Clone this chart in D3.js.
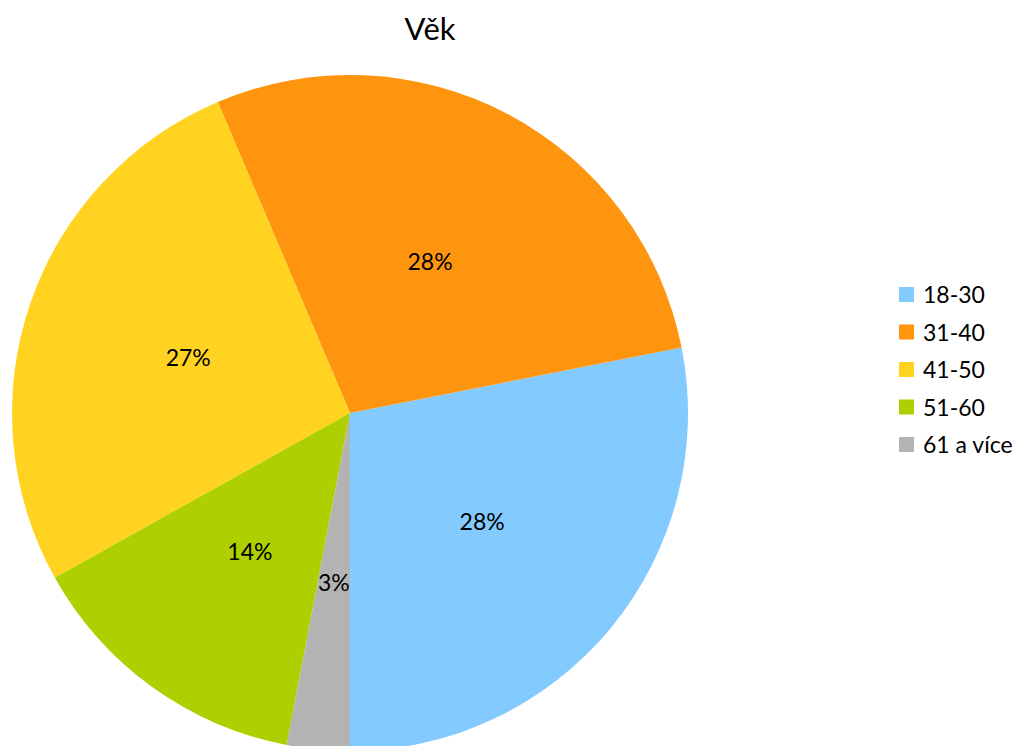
<!DOCTYPE html>
<html>
<head>
<meta charset="utf-8">
<script src="https://cdn.jsdelivr.net/npm/d3@7"></script>
<style>
  body { margin: 0; background: #fff; }
  svg text { font-family: Lato, "Open Sans", sans-serif; fill: #000; }
</style>
</head>
<body>
<div id="chart"></div>
<script>
// data
const categories = ["18-30", "31-40", "41-50", "51-60", "61 a více"];
const values = [28.1, 28.3, 26.7, 13.9, 3.0];
const colors = ["#83caff", "#ff950e", "#ffd320", "#aecf00", "#b3b3b3"];
const title = "Věk";

const width = 1022, height = 746;
const cx = 350, cy = 413, radius = 338;

const color = d3.scaleOrdinal().domain(categories).range(colors);
const data = categories.map((c, i) => ({ category: c, value: values[i] }));
const total = d3.sum(values);

const svg = d3.select("#chart").append("svg")
    .attr("width", width).attr("height", height);

svg.append("text")
    .attr("x", 430).attr("y", 40)
    .attr("text-anchor", "middle")
    .attr("font-size", 31)
    .text(title);

// counter-clockwise from 6 o'clock
const pie = d3.pie().value(d => d.value).sort(null)
    .startAngle(Math.PI).endAngle(-Math.PI);
const arcs = pie(data);

const arc = d3.arc().innerRadius(0).outerRadius(radius);
const labelArc = d3.arc().innerRadius(radius * 0.506).outerRadius(radius * 0.506);

const g = svg.append("g").attr("transform", `translate(${cx},${cy})`);

g.selectAll("path")
    .data(arcs)
    .join("path")
    .attr("d", arc)
    .attr("fill", d => color(d.data.category));

g.selectAll("text.lbl")
    .data(arcs)
    .join("text")
    .attr("class", "lbl")
    .attr("transform", d => `translate(${labelArc.centroid(d)})`)
    .attr("text-anchor", "middle")
    .attr("dy", "0.35em")
    .attr("font-size", 23)
    .text(d => Math.round(d.data.value / total * 100) + "%");

// legend
const legend = svg.append("g").attr("transform", "translate(899,287)");
const row = legend.selectAll("g")
    .data(categories)
    .join("g")
    .attr("transform", (d, i) => `translate(0,${i * 37.5})`);

row.append("rect")
    .attr("width", 15).attr("height", 15)
    .attr("fill", d => color(d));

row.append("text")
    .attr("x", 24).attr("y", 16)
    .attr("font-size", 23)
    .text(d => d);
</script>
</body>
</html>
